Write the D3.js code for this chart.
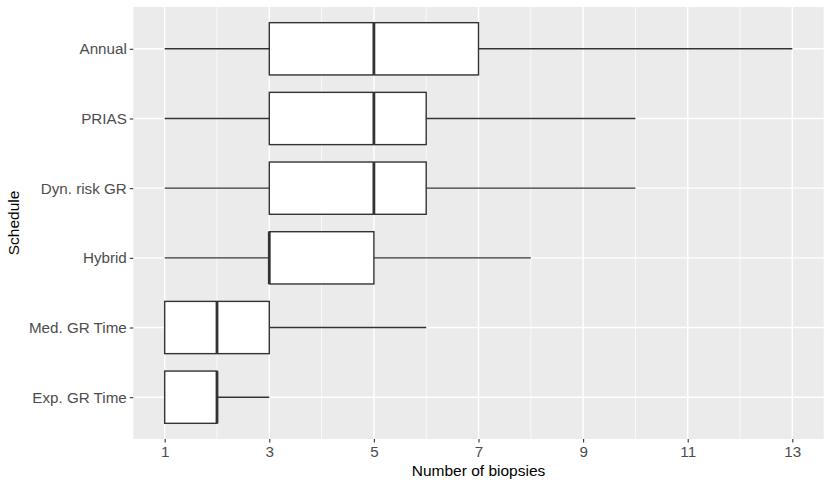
<!DOCTYPE html>
<html><head><meta charset="utf-8">
<script src="https://cdn.jsdelivr.net/npm/d3@7"></script>
<style>body{margin:0;background:#fff;}svg{display:block;font-family:"Liberation Sans",Arial,sans-serif;}</style>
</head><body>
<svg id="c" width="830" height="487"></svg>
<script>
const categories = ["Annual","PRIAS","Dyn. risk GR","Hybrid","Med. GR Time","Exp. GR Time"];
const whiskerLow = [1,1,1,1,1,1];
const q1 = [3,3,3,3,1,1];
const median = [5,5,5,3,2,2];
const q3 = [7,6,6,5,3,2];
const whiskerHigh = [13,10,10,8,6,3];
const xTicks = [1,3,5,7,9,11,13];
const xMinor = [2,4,6,8,10,12];

const svg = d3.select("#c");
const L = 133.3, R = 823.7, T = 7, B = 439;
const x = d3.scaleLinear().domain([0.4,13.6]).range([L,R]);
const y = d3.scalePoint().domain(categories).range([T,B]).padding(0.6);
const bw = y.step()*0.75;

svg.append("rect").attr("x",L).attr("y",T).attr("width",R-L).attr("height",B-T).attr("fill","#EBEBEB");
const g = svg.append("g");
xMinor.forEach(v=>g.append("line").attr("x1",x(v)).attr("x2",x(v)).attr("y1",T).attr("y2",B).attr("stroke","#fff").attr("stroke-width",0.7));
xTicks.forEach(v=>g.append("line").attr("x1",x(v)).attr("x2",x(v)).attr("y1",T).attr("y2",B).attr("stroke","#fff").attr("stroke-width",1.4));
categories.forEach(c=>g.append("line").attr("x1",L).attr("x2",R).attr("y1",y(c)).attr("y2",y(c)).attr("stroke","#fff").attr("stroke-width",1.4));

const col="#333333", lw=1.4;
categories.forEach((c,i)=>{
  const cy=y(c);
  g.append("line").attr("x1",x(whiskerLow[i])).attr("x2",x(q1[i])).attr("y1",cy).attr("y2",cy).attr("stroke",col).attr("stroke-width",lw);
  g.append("line").attr("x1",x(q3[i])).attr("x2",x(whiskerHigh[i])).attr("y1",cy).attr("y2",cy).attr("stroke",col).attr("stroke-width",lw);
  g.append("rect").attr("x",x(q1[i])).attr("y",cy-bw/2).attr("width",x(q3[i])-x(q1[i])).attr("height",bw).attr("fill","#fff").attr("stroke",col).attr("stroke-width",lw);
  g.append("line").attr("x1",x(median[i])).attr("x2",x(median[i])).attr("y1",cy-bw/2).attr("y2",cy+bw/2).attr("stroke",col).attr("stroke-width",2.8);
});

const xa = svg.append("g").attr("transform",`translate(0,${B})`).call(d3.axisBottom(x).tickValues(xTicks).tickSize(3.5).tickPadding(4));
xa.attr("font-family",null).attr("font-size",null);
xa.select(".domain").remove();
xa.selectAll("line").attr("stroke","#333333").attr("stroke-width",1.1);
xa.selectAll("text").attr("fill","#4D4D4D").style("font-size","15.2px");

const ya = svg.append("g").attr("transform",`translate(${L},0)`).call(d3.axisLeft(y).tickSize(3.5).tickPadding(3));
ya.attr("font-family",null).attr("font-size",null);
ya.select(".domain").remove();
ya.selectAll("line").attr("stroke","#333333").attr("stroke-width",1.1);
ya.selectAll("text").attr("fill","#4D4D4D").style("font-size","15.2px");

svg.append("text").attr("x",(L+R)/2).attr("y",476).attr("text-anchor","middle").style("font-size","15.5px").attr("fill","#000").text("Number of biopsies");
svg.append("text").attr("transform",`translate(19,${(T+B)/2}) rotate(-90)`).attr("text-anchor","middle").style("font-size","15.5px").attr("fill","#000").text("Schedule");
</script>
</body></html>
